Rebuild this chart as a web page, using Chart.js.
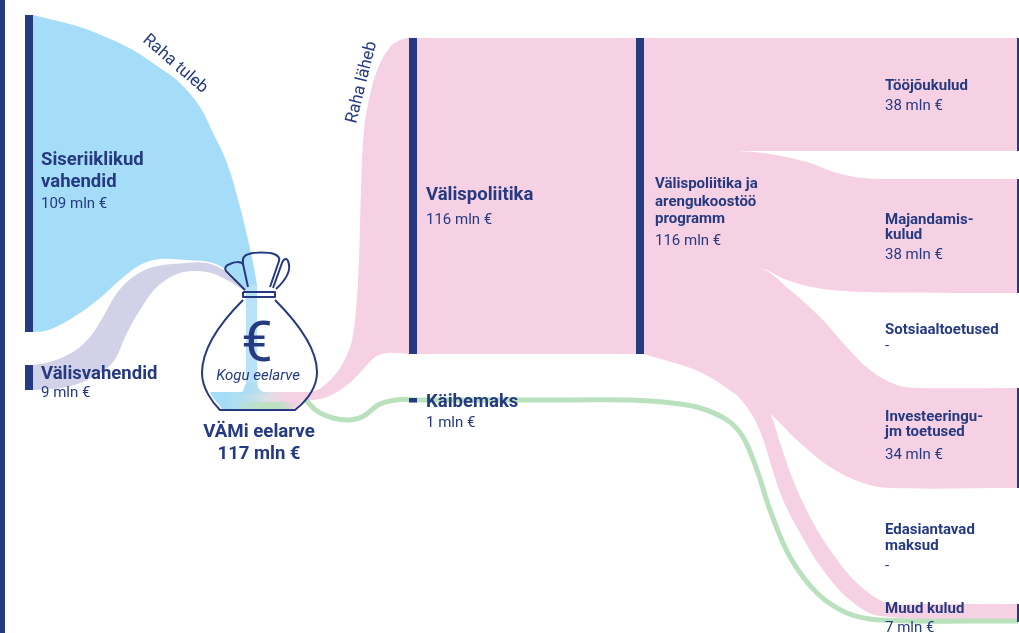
<!DOCTYPE html>
<html lang="et"><head><meta charset="utf-8"><title>VÄMi eelarve</title>
<style>html,body{margin:0;padding:0;background:#fff}canvas{display:block}</style>
<script src="https://cdn.jsdelivr.net/npm/chart.js@4"></script></head>
<body><canvas id="c" width="1019" height="633" style="width:1019px;height:633px"></canvas>
<script>
const navy='#253a80', blue='#a5dcf7', paleBlue='#b7e2f8', pink='#f6d0e3', green='#bae1bd', lilac='#d1d2e7';
// node names and amounts (mln €)
const incomeNames=[['Siseriiklikud','vahendid'],['Välisvahendid']];
const incomeValues=[109,9];
const budgetName='VÄMi eelarve', budgetValue=117;
const programmeNames=[['Välispoliitika'],['Käibemaks'],['Välispoliitika ja','arengukoostöö','programm']];
const programmeValues=[116,1,116];
const costNames=[['Tööjõukulud'],['Majandamis-','kulud'],['Sotsiaaltoetused'],['Investeeringu-','jm toetused'],['Edasiantavad','maksud'],['Muud kulud']];
const costValues=[38,38,null,34,null,7];
// node bars
const nodeX=[29,29,413,413,640,1018,1018,1018,1018];
const nodeTop=[15,365,38,398,38,38,179,388,604];
const nodeBottom=[332,390,354,402.5,354,151,293,488,622];
const nodeW=[8,8,8,8,8,2,2,2,2];
// flow edges, [x,y]
const blueTop=[[33,15],[58,21],[83,28],[108,38],[133,50],[160,68],[180,83],[200,107],[213,133],[227,163],[240,207],[248,240],[253,262],[257,285]];
const blueBottom=[[33,332],[45,331],[60,325],[80,313],[100,298],[120,280],[140,265],[160,259],[187,260],[213,263],[230,273],[246,290],[257,290]];
const stripeTop=[[246,285],[257,285]];
const stripeBottom=[[246,393],[257,393]];
const footTop=[[239,393],[243,391],[246,384],[257,384],[259,389],[264,392],[268,393]];
const footBottom=[[239,394],[268,394]];
const lilacTop=[[33,365],[50,362],[73,352],[90,337],[103,317],[117,293],[133,277],[153,267],[180,263.5],[207,263],[227,272],[246,289]];
const lilacBottom=[[33,390],[67,387],[93,377],[113,362],[127,333],[140,310],[157,287],[180,273],[207,272],[227,280],[246,292]];
const sackTop=[[210,392],[309,392]];
const sackBottom=[[210,392],[214,399],[220,406],[224,409.5],[292,409.5],[300,403],[309,392]];
const sackGreenTop=[[235,402],[297,402]];
const sackGreenBottom=[[235,409.5],[297,409.5]];
const pinkInTop=[[296,393],[315,391],[327,383],[338,371],[346,357],[352,340],[356,310],[359,260],[361,190],[364,130],[370,95],[378,68],[390,47],[400,40],[408,38],[417,38]];
const pinkInBottom=[[296,400],[313,400],[327,397],[340,390],[353,380],[367,365],[375,357],[387,353],[400,353],[410,354],[417,354]];
const pinkMidTop=[[417,38],[644,38]];
const pinkMidBottom=[[417,354],[644,354]];
const laborTop=[[644,38],[1017,38]];
const laborBottom=[[644,151],[1017,151]];
const opsTop=[[644,150],[713,150.5],[763,153],[807,162],[837,173],[863,178],[897,179],[1017,179]];
const opsBottom=[[644,268],[758,268],[787,280],[817,288],[863,292],[1017,293]];
const investTop=[[644,267],[758,268],[790,290],[823,320],[843,343],[870,370],[897,385],[923,388],[1017,388]];
const investBottom=[[644,354],[700,372],[740,397],[770,414],[797,440],[830,467],[863,483],[890,488],[1017,488]];
const otherTop=[[644,340],[700,345],[750,390],[770,414],[780,443],[793,480],[810,517],[830,550],[857,583],[887,603],[920,604],[1017,604]];
const otherBottom=[[644,354],[663,355],[697,365],[723,382],[743,402],[755,420],[764,442],[772,468],[783,500],[800,533],[823,570],[850,600],[880,616],[1017,620]];
const vatLine=[[305,399],[317,411],[333,418],[350,420],[363,416.5],[380,404],[400,399.5],[417,400],[540,400],[630,400],[663,402],[697,407],[727,420],[743,437],[757,470],[770,510],[790,557],[817,593],[847,613],[880,620],[1018,621]];

const pts=a=>a.map(p=>({x:p[0],y:p[1]}));
const datasets=[];
function band(top,bottom,color){
  const base={borderWidth:0,pointRadius:0,tension:.35};
  const n=datasets.length;
  datasets.push({...base,data:pts(top),fill:'+1',backgroundColor:color,order:-n});
  datasets.push({...base,data:pts(bottom),fill:false,order:-n-1});
}
function stroke(data,color,w){
  const n=datasets.length;
  datasets.push({data:pts(data),borderColor:color,borderWidth:w,pointRadius:0,fill:false,tension:.35,borderCapStyle:'butt',order:-n});
}
const grad=(x0,y0,x1,y1,stops,fallback)=>c=>{
  const ch=c.chart; if(!ch.chartArea) return fallback;
  const sx=ch.scales.x, sy=ch.scales.y;
  const g=ch.ctx.createLinearGradient(sx.getPixelForValue(x0),sy.getPixelForValue(y0),sx.getPixelForValue(x1),sy.getPixelForValue(y1));
  stops.forEach(s=>g.addColorStop(s[0],s[1])); return g;
};
band(blueTop,blueBottom,blue);
band(stripeTop,stripeBottom,paleBlue);
band(lilacTop,lilacBottom,lilac);
band(pinkInTop,pinkInBottom,pink);
band(pinkMidTop,pinkMidBottom,pink);
band(laborTop,laborBottom,pink);
band(opsTop,opsBottom,pink);
band(investTop,investBottom,pink);
band(otherTop,otherBottom,pink);
band(sackTop,sackBottom,grad(222,392,305,392,[[0,blue],[.3,'#b6e0ec'],[.55,'#dcdfe6'],[.8,pink],[1,pink]],blue));
band(footTop,footBottom,grad(239,392,268,392,[[0,blue],[.55,'#b4dff0'],[1,'#c8e0ea']],blue));
band(sackGreenTop,sackGreenBottom,grad(235,392,297,392,[[0,'rgba(186,225,189,0)'],[.4,'rgba(186,225,189,.85)'],[.7,'rgba(186,225,189,.95)'],[1,'rgba(186,225,189,0)']],'rgba(186,225,189,0)'));
stroke(vatLine,green,5);
stroke([[2.5,0],[2.5,633]],navy,5);
nodeX.forEach((x,i)=>stroke([[x,nodeTop[i]],[x,nodeBottom[i]]],navy,nodeW[i]));

const amount=v=>v==null?'-':v+' mln €';
const F='Roboto, sans-serif';
const H='700 18.5px '+F, S='700 15px '+F, A='400 15px '+F;
const labels=[
 {t:incomeNames[0][0],x:41,y:165,f:H},{t:incomeNames[0][1],x:41,y:187,f:H},{t:amount(incomeValues[0]),x:41,y:208,f:A},
 {t:incomeNames[1][0],x:41,y:379,f:H},{t:amount(incomeValues[1]),x:41,y:397,f:A},
 {t:'Kogu eelarve',x:258,y:380,f:'italic 400 15px '+F,a:'center'},
 {t:budgetName,x:259,y:437,f:'700 18.7px '+F,a:'center'},{t:amount(budgetValue),x:259,y:459,f:'700 18.5px '+F,a:'center'},
 {t:'€',x:257,y:361,f:'400 56px '+F,a:'center'},
 {t:programmeNames[0][0],x:426,y:200,f:H},{t:amount(programmeValues[0]),x:426,y:224,f:A},
 {t:programmeNames[1][0],x:426,y:407,f:H},{t:amount(programmeValues[1]),x:426,y:427,f:A},
 {t:programmeNames[2][0],x:655,y:188,f:S},{t:programmeNames[2][1],x:655,y:205.5,f:S},{t:programmeNames[2][2],x:655,y:223,f:S},{t:amount(programmeValues[2]),x:655,y:245,f:A},
 {t:costNames[0][0],x:885,y:90,f:S},{t:amount(costValues[0]),x:885,y:110,f:A},
 {t:costNames[1][0],x:885,y:224,f:S},{t:costNames[1][1],x:885,y:239,f:S},{t:amount(costValues[1]),x:885,y:259,f:A},
 {t:costNames[2][0],x:885,y:334,f:S},{t:amount(costValues[2]),x:885,y:350,f:A},
 {t:costNames[3][0],x:885,y:421,f:S},{t:costNames[3][1],x:885,y:436,f:S},{t:amount(costValues[3]),x:885,y:459,f:A},
 {t:costNames[4][0],x:885,y:534,f:S},{t:costNames[4][1],x:885,y:550,f:S},{t:amount(costValues[4]),x:885,y:570,f:A},
 {t:costNames[5][0],x:885,y:613,f:S},{t:amount(costValues[5]),x:885,y:632,f:A},
 {t:'Raha tuleb',x:142,y:41,f:'400 17px '+F,r:41},
 {t:'Raha läheb',x:356,y:124,f:'400 17px '+F,r:-76}
];
// money-bag icon, drawn in scale units
const bagPaths=[
 [[243,300],[225,318,202,345,202,373],[202,388,212,402,220,410],[295,410],[305,402,317,390,317,372],[317,345,293,318,275,300]],
 [[245,290],[226,271],[224,268,226,265,230,264],[234,262,240,261,243,264]],
 [[248,287],[243,264],[242,258,244,255,249,254],[255,252,268,252,274,254],[279,256,280,258,279,261],[270,287]],
 [[273,288],[282,263],[284,258,287,258,288,261],[291,268,288,278,276,289]],
 [[243,292],[275,292],[275,297],[243,297],[243,292]]
];
const overlay={id:'overlay',afterDatasetsDraw(ch){
  const {ctx,scales:{x:sx,y:sy}}=ch, X=v=>sx.getPixelForValue(v), Y=v=>sy.getPixelForValue(v);
  ctx.save();
  ctx.strokeStyle=navy;ctx.lineWidth=2;ctx.lineJoin='round';
  bagPaths.forEach(p=>{ctx.beginPath();p.forEach((s,i)=>{
    if(i===0)ctx.moveTo(X(s[0]),Y(s[1]));
    else if(s.length===2)ctx.lineTo(X(s[0]),Y(s[1]));
    else ctx.bezierCurveTo(X(s[0]),Y(s[1]),X(s[2]),Y(s[3]),X(s[4]),Y(s[5]));
  });ctx.stroke();});
  ctx.fillStyle=navy;ctx.textBaseline='alphabetic';
  labels.forEach(l=>{ctx.save();ctx.font=l.f;ctx.textAlign=l.a||'left';ctx.translate(X(l.x),Y(l.y));if(l.r)ctx.rotate(l.r*Math.PI/180);ctx.fillText(l.t,0,0);ctx.restore();});
  ctx.restore();
}};
new Chart(document.getElementById('c'),{type:'line',data:{datasets},plugins:[overlay],options:{
  responsive:false,animation:false,layout:{padding:0},events:[],
  plugins:{legend:{display:false},tooltip:{enabled:false},title:{display:false}},
  scales:{x:{type:'linear',display:false,min:0,max:1019},y:{type:'linear',display:false,reverse:true,min:0,max:633}}
}});
</script></body></html>
